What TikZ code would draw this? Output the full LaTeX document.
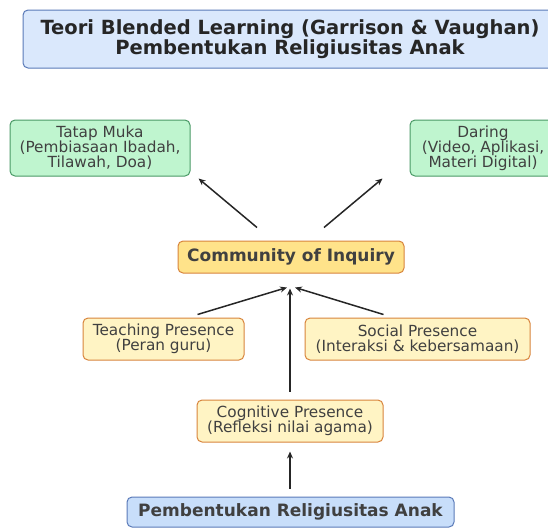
\documentclass[tikz,border=0pt]{standalone}
\usepackage{fontspec}
\setmainfont{DejaVu Sans}
\usetikzlibrary{arrows.meta}
\definecolor{titlefill}{HTML}{DAE8FC}
\definecolor{titledraw}{HTML}{5A7AB8}
\definecolor{modefill}{HTML}{BFF5CF}
\definecolor{modedraw}{HTML}{4A9A66}
\definecolor{presfill}{HTML}{FFF4C4}
\definecolor{presdraw}{HTML}{D8843C}
\definecolor{coifill}{HTML}{FFE38A}
\definecolor{goalfill}{HTML}{C8DEFA}
\definecolor{txt}{HTML}{404040}
\newcommand\fs[2]{\fontsize{#1}{#2}\selectfont}

\begin{document}
\begin{tikzpicture}[x=1pt, y=-1pt, >={Stealth[length=7pt,width=6pt]},
  box/.style = {rounded corners=5pt, line width=1pt, align=center, inner sep=0pt, text=txt},
  headbox/.style = {box, fill=titlefill, draw=titledraw, font=\fs{19.5}{20}\bfseries, text=black!85},
  modebox/.style = {box, fill=modefill, draw=modedraw, font=\fs{15.3}{15}},
  presbox/.style = {box, fill=presfill, draw=presdraw, font=\fs{15.3}{15}},
  link/.style = {->, line width=1.5pt, black!85}]
\useasboundingbox (0,0) rectangle (548,528);
\clip (0,0) rectangle (548,528);
% boxes
\node[headbox, minimum width=534pt, minimum height=58pt] (head) at (290,39)
  {Teori Blended Learning (Garrison \& Vaughan)\\Pembentukan Religiusitas Anak};
\node[modebox, minimum width=180pt, minimum height=56pt] (tatap) at (100,148)
  {Tatap Muka\\(Pembiasaan Ibadah,\\Tilawah, Doa)};
\node[modebox, minimum width=146pt, minimum height=56pt] (daring) at (483,148)
  {Daring\\(Video, Aplikasi,\\Materi Digital)};
\node[box, fill=coifill, draw=presdraw, font=\fs{17}{17}\bfseries, minimum width=226pt, minimum height=32pt] (coi) at (291,257)
  {Community of Inquiry};
\node[presbox, minimum width=161pt, minimum height=42pt] (teach) at (163.5,339)
  {Teaching Presence\\(Peran guru)};
\node[presbox, minimum width=225pt, minimum height=42pt] (social) at (417.5,339)
  {Social Presence\\(Interaksi \& kebersamaan)};
\node[presbox, minimum width=186pt, minimum height=42pt] (cogn) at (290,421)
  {Cognitive Presence\\(Refleksi nilai agama)};
\node[box, fill=goalfill, draw=titledraw, font=\fs{17}{17}\bfseries, minimum width=327pt, minimum height=30pt] (goal) at (290.5,512)
  {Pembentukan Religiusitas Anak};
% arrows
\draw [link] ([xshift=-34pt, yshift=13pt]coi.north) -- ([xshift=8pt, yshift=-2pt]tatap.south east);
\draw [link] ([xshift=33pt, yshift=13pt]coi.north) -- ([xshift=-27pt, yshift=-2pt]daring.south west);
\draw [link] ([xshift=34pt, yshift=3pt]teach.north) -- ([xshift=-4pt, yshift=-14pt]coi.south);
\draw [link] ([xshift=-34pt, yshift=3pt]social.north) -- ([xshift=4pt, yshift=-14pt]coi.south);
\draw [link] ([yshift=8pt]cogn.north) -- ([xshift=-1pt, yshift=-15pt]coi.south);
\draw [link] ([xshift=-0.5pt, yshift=8pt]goal.north) -- ([yshift=-9pt]cogn.south);
\end{tikzpicture}
\end{document}
